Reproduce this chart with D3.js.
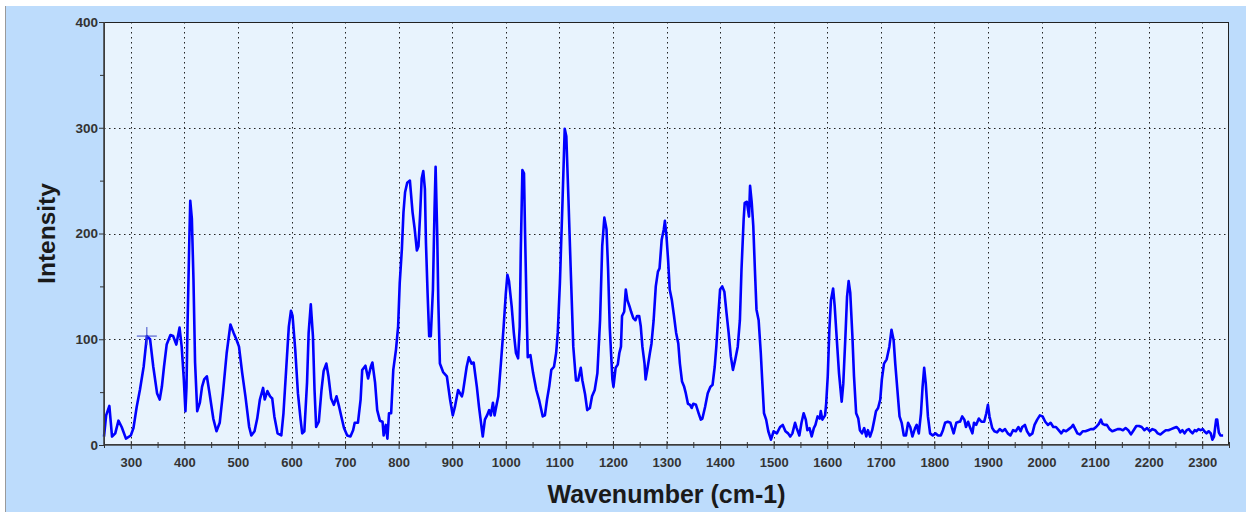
<!DOCTYPE html>
<html>
<head>
<meta charset="utf-8">
<script src="https://cdn.jsdelivr.net/npm/d3@7"></script>
<style>
  body { margin: 0; background: #fff; }
  text { font-family: "Liberation Sans", Arial, sans-serif; }
</style>
</head>
<body>
<div id="chart"></div>
<script>
// Raman spectrum (wavenumber in cm-1, intensity in counts)
const wavenumber = [
  250,254,260,265,271,277,283,291,300,305,311,317,324,330,336,342,349,354,358,362,367,374,379,385,391,395,399,402,404,406,409,411,414,417,420,424,429,433,437,442,447,454,460,466,472,479,486,492,497,502,508,514,521,525,531,536,541,547,550,555,560,
  564,568,574,581,585,590,595,599,602,607,612,617,620,624,629,632,636,640,643,646,651,656,660,665,669,674,679,684,689,693,698,704,710,715,718,724,729,732,738,743,748,751,756,760,765,770,772,776,779,782,786,
  790,795,799,802,806,809,812,816,821,826,830,834,837,840,843,846,849,851,854,857,860,864,867,869,872,874,877,883,890,896,901,905,911,918,920,927,931,936,940,946,950,957,961,965,969,972,976,979,982,986,
  991,996,1000,1003,1006,1011,1015,1019,1023,1026,1028,1031,1034,1036,1039,1041,1046,1051,1057,1062,1069,1073,1077,1081,1085,1090,1094,1097,1101,1106,1110,1113,1117,1121,1126,1131,1135,1140,1143,1148,1152,1157,1161,1166,
  1171,1176,1180,1184,1188,1191,1194,1199,1201,1205,1209,1212,1215,1217,1221,1224,1227,1231,1234,1238,1242,1245,1249,1252,1255,1259,1261,1265,1269,1272,1276,1280,1284,1287,1291,1295,1297,1300,1303,1306,1310,1314,1318,1322,1325,1329,1333,1336,1340,1344,1347,1350,1355,1360,1364,1367,1372,1377,1382,1386,1390,1393,1397,
  1400,1404,1408,1412,1416,1420,1424,1428,1433,1437,1440,1444,1446,1450,1454,1456,1459,1462,1465,1468,1472,1476,1479,1482,1486,1490,1495,1500,
  1506,1512,1517,1522,1527,1531,1535,1540,1543,1548,1552,1556,1560,1563,1567,1571,1575,1578,1582,1586,1588,1591,1596,1598,1601,1604,1607,1611,1614,1618,1622,1627,1630,1634,1637,1640,1643,1647,1650,1654,1658,1661,1665,1669,1673,1676,1680,1684,1688,1691,1695,1699,
  1702,1706,1711,1716,1720,1724,1727,1731,1735,1739,1743,1747,1751,1755,1759,1764,1767,1771,1775,1778,1781,1784,1788,1792,1797,1802,1807,1812,1816,1820,1825,1830,
  1836,1841,1846,1848,1852,1856,1859,1863,1867,1871,1874,1878,1883,1888,1893,1897,1900,1903,1908,1912,1917,1922,1927,1932,1937,1942,1947,1952,1957,1961,1964,1969,1973,1978,1983,1987,1992,1997,
  2002,2007,2012,2017,2022,2027,2032,2037,2041,2046,2051,2056,2059,2063,2067,2072,2077,2082,2087,2092,2097,2102,2107,2111,2114,2118,2122,2127,2132,2137,2142,2147,2152,2157,2162,2167,2172,2177,2182,2187,2192,2197,
  2202,2207,2212,2217,2222,2227,2232,2237,2242,2247,2252,2256,2259,2263,2267,2271,2275,2278,2282,2286,2289,2293,2297,2301,2304,2308,2312,2316,2319,2322,2326,2328,2331,2334,2339
];
const intensity = [
  8,28,37,8,11,23,17,6,9,16,36,52,74,103,100,74,49,43,55,74,95,104,103,95,111,93,62,32,55,115,188,231,214,157,78,32,40,55,62,65,49,25,13,21,49,87,114,106,100,93,68,46,17,9,13,25,43,54,43,51,46,
  44,27,11,9,30,71,112,127,122,90,49,24,11,13,59,106,133,103,52,17,22,52,70,77,65,44,38,46,36,27,16,9,8,14,21,21,43,71,75,63,74,78,59,33,23,22,9,19,6,30,30,
  71,90,112,153,185,220,239,248,250,220,204,184,188,217,252,259,242,191,144,103,103,147,223,263,200,137,77,69,65,43,28,36,52,46,50,74,83,77,78,55,36,8,24,28,33,28,40,28,36,46,
  78,112,143,161,155,131,106,87,82,112,184,260,257,200,125,83,85,68,52,43,27,28,43,55,71,74,87,106,153,232,299,292,232,169,93,61,61,73,61,48,33,35,46,52,
  68,118,188,215,204,166,112,62,55,73,76,87,93,122,126,147,137,131,126,120,118,122,122,112,93,77,62,74,87,96,118,150,164,167,194,204,212,197,175,147,137,122,106,96,77,60,55,49,39,38,35,39,38,30,24,25,36,49,55,57,74,93,125,
  147,150,145,125,106,84,71,80,93,118,166,213,229,230,216,245,230,207,166,128,118,87,58,30,24,13,5,13,
  11,17,19,13,11,8,11,21,16,9,21,30,24,14,16,8,16,19,27,25,32,24,28,39,65,109,137,148,131,99,68,41,58,103,140,155,144,103,65,30,25,14,11,16,8,14,8,14,24,32,35,43,
  62,77,81,93,109,99,77,52,27,21,9,9,21,17,8,16,19,11,30,55,73,58,27,11,9,11,9,9,14,21,22,21,
  11,21,22,22,27,24,17,22,16,11,21,19,25,22,22,30,38,27,16,13,12,15,13,15,11,9,14,13,17,13,17,19,13,9,11,19,24,28,
  27,22,19,21,17,17,14,11,14,13,15,17,19,15,11,10,13,13,14,15,15,17,20,24,20,19,19,15,13,14,15,15,14,16,14,10,14,18,18,17,14,16,
  13,15,14,11,10,12,14,14,15,16,17,15,12,14,11,14,15,13,11,14,13,15,14,15,13,11,13,11,5,8,24,24,12,9,9
];

const xTicks = [300,400,500,600,700,800,900,1000,1100,1200,1300,1400,1500,1600,1700,1800,1900,2000,2100,2200,2300];
const xMinorTicks = [250,350,450,550,650,750,850,950,1050,1150,1250,1350,1450,1550,1650,1750,1850,1950,2050,2150,2250,2350];
const yTicks = [0,100,200,300,400];
const yMinorTicks = [50,150,250,350];
const cursorPoint = [330, 103];

const width = 1246, height = 512;
const plot = { left: 104, right: 1229, top: 22, bottom: 445 };

const svg = d3.select("#chart").append("svg")
  .attr("width", width)
  .attr("height", height);

// outer panel
svg.append("rect")
  .attr("x", 5).attr("y", 6)
  .attr("width", width - 5).attr("height", height - 6)
  .attr("fill", "#bddcfc");
svg.append("line")
  .attr("x1", 5.5).attr("x2", 5.5).attr("y1", 6).attr("y2", height)
  .attr("stroke", "#9a9a9a");

const x = d3.scaleLinear().domain([250, 2350]).range([plot.left, plot.right]);
const y = d3.scaleLinear().domain([0, 400]).range([plot.bottom, plot.top]);

// plot background
svg.append("rect")
  .attr("x", plot.left).attr("y", plot.top)
  .attr("width", plot.right - plot.left).attr("height", plot.bottom - plot.top)
  .attr("fill", "#e8f3fd");

// dotted grid
const grid = svg.append("g").attr("stroke", "#222").attr("stroke-width", 1).attr("stroke-dasharray", "1.5,3.5");
grid.selectAll("line.v")
  .data(xTicks)
  .join("line")
  .attr("class", "v")
  .attr("x1", d => Math.round(x(d)) + 0.5).attr("x2", d => Math.round(x(d)) + 0.5)
  .attr("y1", plot.top).attr("y2", plot.bottom);
grid.selectAll("line.h")
  .data(yTicks.filter(d => d > 0 && d < 400))
  .join("line")
  .attr("class", "h")
  .attr("x1", plot.left).attr("x2", plot.right)
  .attr("y1", d => Math.round(y(d)) + 0.5).attr("y2", d => Math.round(y(d)) + 0.5);

// spectrum
const points = wavenumber.map((w, i) => [w, intensity[i]]);
const line = d3.line().x(d => x(d[0])).y(d => y(d[1]));
svg.append("path")
  .datum(points)
  .attr("fill", "none")
  .attr("stroke", "#0000ff")
  .attr("stroke-width", 2.6)
  .attr("stroke-linejoin", "round")
  .attr("d", line);

// cursor cross
const cx = x(cursorPoint[0]), cy = y(cursorPoint[1]);
const cursor = svg.append("g").attr("stroke", "#3a48c8").attr("stroke-width", 1);
cursor.append("line").attr("x1", cx - 10).attr("x2", cx + 10).attr("y1", cy).attr("y2", cy);
cursor.append("line").attr("x1", cx).attr("x2", cx).attr("y1", cy - 9).attr("y2", cy + 9);

// plot border
svg.append("rect")
  .attr("x", plot.left + 0.5).attr("y", plot.top + 0.5)
  .attr("width", plot.right - plot.left - 1).attr("height", plot.bottom - plot.top - 1)
  .attr("fill", "none")
  .attr("stroke", "#222");
svg.append("path")
  .attr("d", `M${plot.left},${plot.top}V${plot.bottom}H${plot.right}`)
  .attr("fill", "none")
  .attr("stroke", "#444")
  .attr("stroke-width", 1.6);

// x axis
const xAxis = svg.append("g")
  .attr("transform", `translate(0,${plot.bottom})`)
  .call(d3.axisBottom(x).tickValues(xTicks).tickSize(4).tickFormat(d3.format("d")));
xAxis.select(".domain").remove();
xAxis.selectAll(".tick line").attr("y1", -4).attr("y2", 4).attr("stroke", "#333");
xAxis.selectAll(".tick text")
  .attr("y", 13).attr("dy", "0.71em")
  .style("font-family", "'Liberation Sans', Arial, sans-serif")
  .style("font-size", "13px").style("font-weight", "bold").attr("fill", "#333");

const xMinor = svg.append("g")
  .attr("transform", `translate(0,${plot.bottom})`)
  .call(d3.axisBottom(x).tickValues(xMinorTicks).tickSize(3).tickFormat(""));
xMinor.select(".domain").remove();
xMinor.selectAll(".tick line").attr("y1", -3).attr("y2", 3).attr("stroke", "#333");

// y axis
const yAxis = svg.append("g")
  .attr("transform", `translate(${plot.left},0)`)
  .call(d3.axisLeft(y).tickValues(yTicks).tickSize(5).tickPadding(1));
yAxis.select(".domain").remove();
yAxis.selectAll(".tick line").attr("stroke", "#333");
yAxis.selectAll(".tick text")
  .style("font-family", "'Liberation Sans', Arial, sans-serif")
  .style("font-size", "13.5px").style("font-weight", "bold").attr("fill", "#333");

const yMinor = svg.append("g")
  .attr("transform", `translate(${plot.left},0)`)
  .call(d3.axisLeft(y).tickValues(yMinorTicks).tickSize(4).tickFormat(""));
yMinor.select(".domain").remove();
yMinor.selectAll(".tick line").attr("stroke", "#333");

// axis titles
svg.append("text")
  .attr("x", (plot.left + plot.right) / 2)
  .attr("y", 503)
  .attr("text-anchor", "middle")
  .style("font-size", "25px").style("font-weight", "bold")
  .attr("fill", "#1a1a1a")
  .text("Wavenumber (cm-1)");

svg.append("text")
  .attr("transform", `translate(55,${(plot.top + plot.bottom) / 2}) rotate(-90)`)
  .attr("text-anchor", "middle")
  .style("font-size", "24.5px").style("font-weight", "bold")
  .attr("fill", "#1a1a1a")
  .text("Intensity");
</script>
</body>
</html>
